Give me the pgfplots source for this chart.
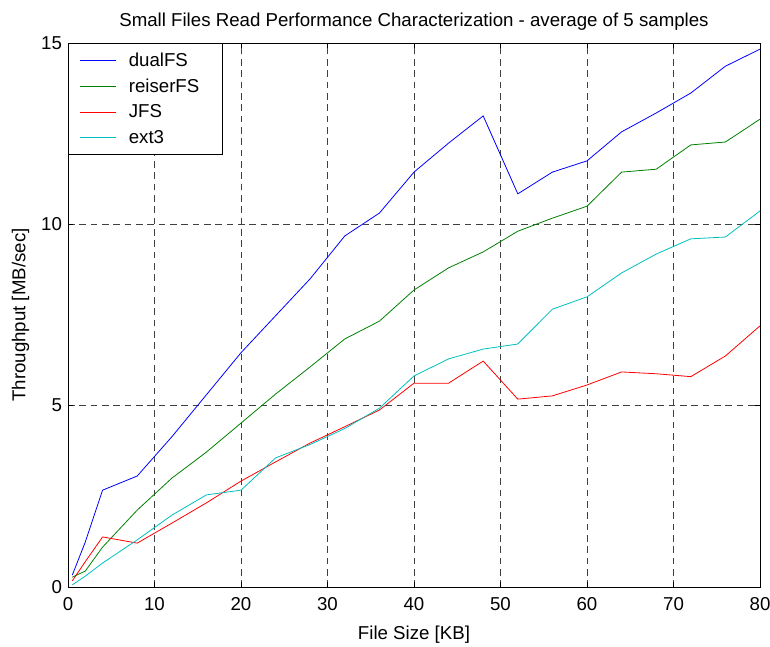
\documentclass[border=0pt]{standalone}
\usepackage{fontspec}
\setmainfont{Liberation Sans}
\usepackage{pgfplots}
\pgfplotsset{compat=1.18}
\definecolor{mblue}{RGB}{0,0,255}
\definecolor{mgreen}{RGB}{0,128,0}
\definecolor{mred}{RGB}{255,0,0}
\definecolor{mcyan}{RGB}{0,191,191}
\begin{document}
\begin{tikzpicture}
\begin{axis}[
  scale only axis, width=519pt, height=408pt,
  xmin=0, xmax=80, ymin=0, ymax=15,
  xtick={0,10,...,80}, ytick={0,5,10,15},
  tick align=inside, major tick length=4pt,
  tick style={black, line width=0.5pt},
  axis line style={black, line width=0.7pt},
  grid=major, grid style={black!75, dash pattern=on 5pt off 3.5pt, line width=0.6pt},
  /pgf/number format/assume math mode=true,
  font=\fontsize{14}{17}\selectfont,
  tick label style={font=\fontsize{14}{17}\selectfont},
  xticklabel style={yshift=-4pt},
  yticklabel style={xshift=-1pt},
  title={Small Files Read Performance Characterization - average of 5 samples},
  title style={yshift=0pt},
  xlabel={File Size [KB]}, ylabel={Throughput [MB/sec]},
  xlabel style={yshift=-5pt}, ylabel style={yshift=2pt},
  legend style={at={(0,1)}, anchor=north west, draw=black, line width=0.7pt,
    font=\fontsize{14}{17}\selectfont, inner xsep=8pt, inner ysep=5pt,
    text width=60pt, cells={anchor=west}, row sep=3.8pt},
  legend image code/.code={\draw[#1, line width=0.9pt] (0pt,0pt) -- (27pt,0pt);
    \path (34.5pt,0pt);},
  every axis plot/.append style={line width=0.6pt},
]
\addplot[mblue] coordinates {(0.5,0.33) (2,1.24) (4,2.67) (8,3.06) (12,4.14) (16,5.3) (20,6.46) (24,7.48) (28,8.5) (32,9.68) (36,10.31) (40,11.44) (44,12.24) (48,12.99) (52,10.84) (56,11.44) (60,11.75) (64,12.55) (68,13.07) (72,13.62) (76,14.36) (80,14.83)};
\addlegendentry{dualFS}
\addplot[mgreen] coordinates {(0.5,0.27) (2,0.44) (4,1.1) (8,2.12) (12,3.0) (16,3.72) (20,4.52) (24,5.32) (28,6.07) (32,6.84) (36,7.33) (40,8.19) (44,8.8) (48,9.24) (52,9.81) (56,10.17) (60,10.5) (64,11.44) (68,11.52) (72,12.19) (76,12.27) (80,12.9)};
\addlegendentry{reiserFS}
\addplot[mred] coordinates {(0.5,0.17) (2,0.7) (4,1.38) (8,1.21) (12,1.76) (16,2.32) (20,2.92) (24,3.45) (28,3.97) (32,4.42) (36,4.88) (40,5.62) (44,5.62) (48,6.23) (52,5.18) (56,5.27) (60,5.57) (64,5.93) (68,5.88) (72,5.8) (76,6.37) (80,7.2)};
\addlegendentry{JFS}
\addplot[mcyan] coordinates {(0.5,0.06) (2,0.3) (4,0.66) (8,1.3) (12,1.98) (16,2.54) (20,2.67) (24,3.56) (28,3.93) (32,4.37) (36,4.93) (40,5.82) (44,6.29) (48,6.56) (52,6.7) (56,7.66) (60,8.0) (64,8.66) (68,9.18) (72,9.6) (76,9.65) (80,10.37)};
\addlegendentry{ext3}
\end{axis}
\pgfresetboundingbox
\path (current axis.south west) ++(-51pt,-44.25pt) coordinate (bl);
\path (current axis.north east) ++(7.5pt,32.25pt) coordinate (tr);
\path[use as bounding box] (bl) rectangle (tr);
\end{tikzpicture}
\end{document}
